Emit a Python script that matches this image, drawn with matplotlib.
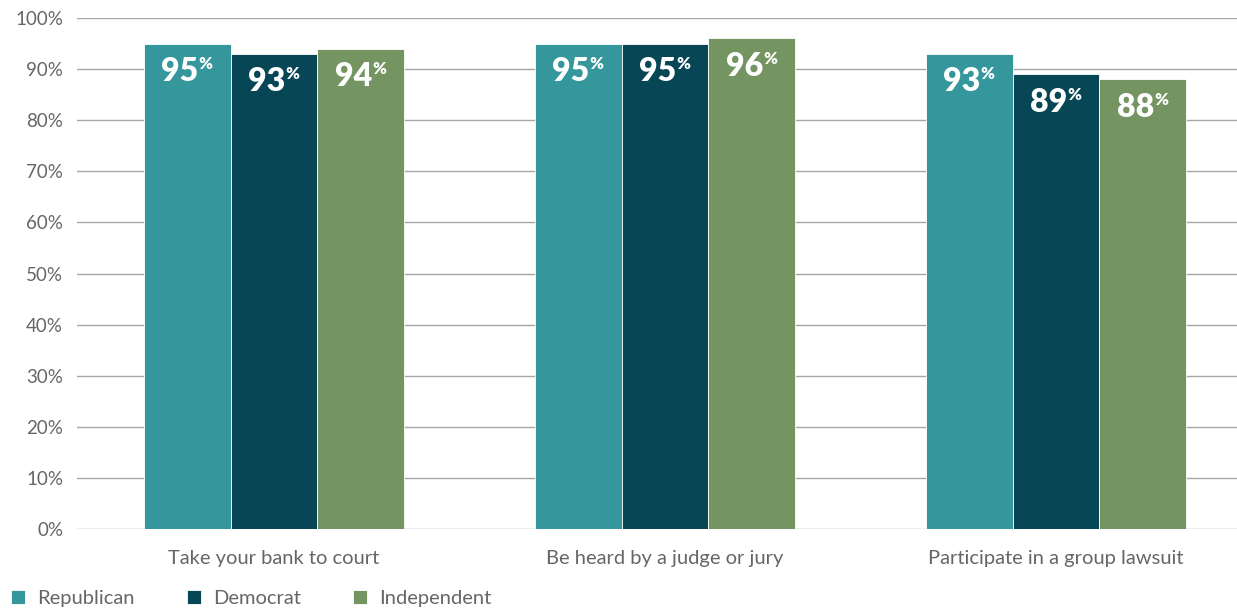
import numpy as np
import matplotlib.pyplot as plt

categories = ['Take your bank to court', 'Be heard by a judge or jury', 'Participate in a group lawsuit']
parties = ['Republican', 'Democrat', 'Independent']
republican = [95, 95, 93]
democrat = [93, 95, 89]
independent = [94, 96, 88]
colors = ['#35979c', '#074655', '#749461']

plt.rcParams['font.family'] = ['Lato', 'DejaVu Sans']

fig = plt.figure(figsize=(12.37, 6.09), dpi=100)
ax = fig.add_axes([0.0622, 0.1314, 0.9378, 0.839])

x = np.arange(len(categories))
width = 0.222
offsets = [-width, 0, width]
series = [republican, democrat, independent]

for vals, off, col, name in zip(series, offsets, colors, parties):
    bars = ax.bar(x + off, vals, width, color=col, label=name, zorder=3,
                  edgecolor='white', linewidth=0.6)
    for b, v in zip(bars, vals):
        cx = b.get_x() + b.get_width() / 2
        # big number, then a small raised percent sign
        ax.annotate(str(v), (cx, v), xytext=(8, -20), textcoords='offset points',
                    ha='right', va='center', color='white', fontsize=23,
                    fontweight='heavy', zorder=4)
        ax.annotate('%', (cx, v), xytext=(8, -9), textcoords='offset points',
                    ha='left', va='top', color='white', fontsize=12,
                    fontweight='heavy', zorder=4)

ax.set_xlim(-0.504, 2.463)
ax.set_ylim(0, 100)
ax.set_yticks(range(0, 101, 10))
ax.set_yticklabels([f'{t}%' for t in range(0, 101, 10)])
ax.yaxis.grid(True, color='#a6a6a6', linewidth=1, zorder=0)
ax.set_xticks(x)
ax.set_xticklabels(categories)
ax.tick_params(axis='both', length=0, labelcolor='#666666')
ax.tick_params(axis='y', pad=10, labelsize=13.5)
ax.tick_params(axis='x', pad=15, labelsize=14.5)
for s in ax.spines.values():
    s.set_visible(False)

fig.legend(loc='lower left', bbox_to_anchor=(-0.006, -0.027), ncol=3, frameon=False,
           fontsize=14.5, labelcolor='#666666', handlelength=0.7, handleheight=0.7,
           handletextpad=0.6, columnspacing=2.6)

fig.savefig('out.png', dpi=100)
